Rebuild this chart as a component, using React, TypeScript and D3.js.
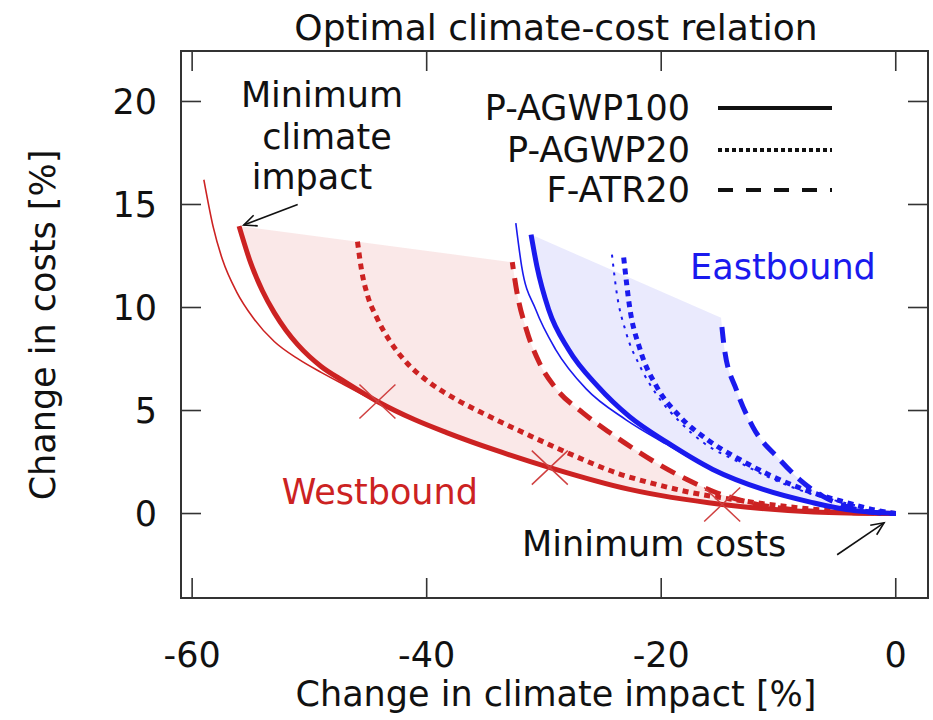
import React from "react";
import * as d3 from "d3";

type P = [number, number];

// Westbound (red)
const westThin: P[] = [[-59.0, 16.2], [-58.2, 13.9], [-57.4, 12.3], [-56.2, 10.75], [-54.8, 9.5], [-53.0, 8.35], [-50.9, 7.48], [-49.0, 6.85], [-47.0, 6.24], [-44.2, 5.4], [-38.3, 3.88], [-34.0, 3.01], [-29.5, 2.19], [-22.7, 1.13], [-14.8, 0.42], [-7.0, 0.07], [0, 0]];
const westSolid: P[] = [[-56.0, 13.95], [-55.0, 12.15], [-54.0, 10.8], [-53.0, 9.75], [-52.0, 8.9], [-51.0, 8.2], [-50.0, 7.62], [-49.0, 7.14], [-47.0, 6.4], [-44.2, 5.44], [-41.0, 4.55], [-38.3, 3.93], [-34.0, 3.05], [-29.5, 2.23], [-22.7, 1.17], [-14.8, 0.44], [-7.0, 0.08], [0, 0]];
const westDotted: P[] = [[-45.9, 13.2], [-45.56, 11.84], [-45.05, 10.6], [-44.25, 9.5], [-43.17, 8.4], [-41.72, 7.33], [-39.76, 6.36], [-37.46, 5.53], [-34.9, 4.78], [-31.2, 3.78], [-27.8, 2.9], [-23.6, 1.93], [-21.0, 1.5], [-17.8, 1.06], [-13.6, 0.66], [-9.3, 0.34], [-4.5, 0.1], [0, 0]];
const westDashed: P[] = [[-32.7, 12.2], [-32.3, 10.73], [-31.5, 8.93], [-30.4, 7.33], [-28.9, 6.02], [-26.7, 4.9], [-24.4, 3.93], [-22.1, 3.05], [-20.7, 2.55], [-17.8, 1.65], [-15.6, 1.08], [-12.2, 0.5], [-6.5, 0.1], [0, 0]];
const westCrosses: P[] = [[-44.2, 5.44], [-29.5, 2.23], [-14.8, 0.44]];

// Eastbound (blue)
const eastThin: P[] = [[-32.4, 14.1], [-31.9, 12.0], [-30.7, 9.9], [-29.0, 7.96], [-26.4, 6.05], [-23.0, 4.55], [-19.6, 3.38], [-15.6, 2.1], [-11.3, 1.15], [-7.1, 0.51], [-4.2, 0.18], [0, 0]];
const eastSolid: P[] = [[-31.1, 13.54], [-30.6, 12.0], [-29.6, 9.9], [-27.9, 7.96], [-25.4, 6.17], [-22.7, 4.7], [-19.5, 3.45], [-15.6, 2.14], [-11.3, 1.17], [-7.1, 0.53], [-4.2, 0.19], [0, 0]];
const eastThinDotted: P[] = [[-24.2, 12.57], [-23.8, 10.73], [-23.0, 8.79], [-21.8, 7.14], [-20.3, 5.7], [-18.5, 4.5], [-16.3, 3.4], [-13.4, 2.5], [-10.6, 1.7], [-7.2, 0.95], [-4.2, 0.5], [0, 0]];
const eastDotted: P[] = [[-23.2, 12.43], [-22.7, 10.05], [-21.8, 7.96], [-20.4, 6.17], [-18.4, 4.7], [-16.1, 3.6], [-13.3, 2.62], [-10.5, 1.8], [-7.1, 1.02], [-4.2, 0.53], [-1.8, 0.17], [0, 0]];
const eastDashed: P[] = [[-14.9, 9.5], [-14.6, 7.96], [-13.6, 6.02], [-12.2, 4.22], [-9.9, 2.62], [-8.2, 1.65], [-6.2, 0.83], [-4.2, 0.34], [-1.8, 0.05], [0, 0]];

const xTicks = [-60, -40, -20, 0];
const yTicks = [0, 5, 10, 15, 20];
const legendLabels = ["P-AGWP100", "P-AGWP20", "F-ATR20"];
const titleText = "Optimal climate-cost relation";
const xLabel = "Change in climate impact [%]";
const yLabel = "Change in costs [%]";
const minClimateLines = ["Minimum", "climate", "impact"];

const RED = "#cc2222";
const BLUE = "#1a1aee";
const FONT = "DejaVu Sans, sans-serif";
const FS = 35;

const W = 933, H = 720;
const FL = 181, FR = 928, FT = 51, FB = 598;

export default function App() {
  const x = d3.scaleLinear().domain([-60.95, 2.75]).range([FL, FR]);
  const y = d3.scaleLinear().domain([-4.1, 22.45]).range([FB, FT]);
  const line = d3.line<P>().x(d => x(d[0])).y(d => y(d[1])).curve(d3.curveMonotoneX);

  const shade = (a: P[], b: P[]) => {
    const p1 = line(a) as string;
    const p2 = (line([...b].reverse()) as string).replace(/^M/, "L");
    return p1 + p2 + "Z";
  };

  const arrow = (x1: number, y1: number, x2: number, y2: number, key: string) => {
    const ax = x(x1), ay = y(y1), bx = x(x2), by = y(y2);
    const ang = Math.atan2(by - ay, bx - ax);
    const L = 14, spread = 0.42;
    const h1 = [bx - L * Math.cos(ang - spread), by - L * Math.sin(ang - spread)];
    const h2 = [bx - L * Math.cos(ang + spread), by - L * Math.sin(ang + spread)];
    return (
      <g key={key} stroke="#111" strokeWidth={1.6} fill="none">
        <line x1={ax} y1={ay} x2={bx} y2={by} />
        <polyline points={`${h1[0]},${h1[1]} ${bx},${by} ${h2[0]},${h2[1]}`} />
      </g>
    );
  };

  const legY = [108, 150, 190];
  const legDash = [undefined, "4,3", "15,13"];

  return (
    <div style={{ position: "absolute", left: 0, top: 0, background: "#fff" }}>
      <svg width={W} height={H} style={{ display: "block", fontFamily: FONT }}>
        <rect x={0} y={0} width={W} height={H} fill="#fff" />
        {/* shades */}
        <path d={shade(westSolid, westDashed)} fill={RED} fillOpacity={0.1} stroke="none" />
        <path d={shade(eastSolid, eastDashed)} fill={BLUE} fillOpacity={0.09} stroke="none" />

        {/* red curves */}
        <path d={line(westThin) as string} fill="none" stroke={RED} strokeWidth={1.6} />
        <path d={line(westSolid) as string} fill="none" stroke={RED} strokeWidth={5} />
        <path d={line(westDotted) as string} fill="none" stroke={RED} strokeWidth={5} strokeDasharray="6,5" />
        <path d={line(westDashed) as string} fill="none" stroke={RED} strokeWidth={5} strokeDasharray="16,9" strokeDashoffset={9} />
        {westCrosses.map((d, i) => (
          <g key={i} stroke="#d04040" strokeWidth={1.5}>
            <line x1={x(d[0]) - 18} y1={y(d[1]) - 17} x2={x(d[0]) + 18} y2={y(d[1]) + 17} />
            <line x1={x(d[0]) - 18} y1={y(d[1]) + 17} x2={x(d[0]) + 18} y2={y(d[1]) - 17} />
          </g>
        ))}

        {/* blue curves */}
        <path d={line(eastThin) as string} fill="none" stroke={BLUE} strokeWidth={1.6} />
        <path d={line(eastSolid) as string} fill="none" stroke={BLUE} strokeWidth={5} />
        <path d={line(eastThinDotted) as string} fill="none" stroke={BLUE} strokeWidth={2} strokeDasharray="3,6" />
        <path d={line(eastDotted) as string} fill="none" stroke={BLUE} strokeWidth={5} strokeDasharray="6,5" />
        <path d={line(eastDashed) as string} fill="none" stroke={BLUE} strokeWidth={5} strokeDasharray="16,9" strokeDashoffset={16} />

        {/* frame and ticks */}
        <rect x={FL} y={FT} width={FR - FL} height={FB - FT} fill="none" stroke="#333" strokeWidth={2} />
        {xTicks.map(t => (
          <g key={"x" + t} stroke="#333" strokeWidth={1.6}>
            <line x1={x(t)} x2={x(t)} y1={FB} y2={FB - 20} />
            <line x1={x(t)} x2={x(t)} y1={FT} y2={FT + 20} />
          </g>
        ))}
        {yTicks.map(t => (
          <g key={"y" + t} stroke="#333" strokeWidth={1.6}>
            <line x1={FL} x2={FL + 20} y1={y(t)} y2={y(t)} />
            <line x1={FR} x2={FR - 20} y1={y(t)} y2={y(t)} />
          </g>
        ))}
        {xTicks.map(t => (
          <text key={"xl" + t} x={x(t)} y={667} textAnchor="middle" fontSize={FS} fill="#111">{t}</text>
        ))}
        {yTicks.map(t => (
          <text key={"yl" + t} x={157} y={y(t) + 12.5} textAnchor="end" fontSize={FS} fill="#111">{t}</text>
        ))}

        {/* titles */}
        <text x={556} y={40} textAnchor="middle" fontSize={36} fill="#111">{titleText}</text>
        <text x={556} y={706} textAnchor="middle" fontSize={FS} fill="#111">{xLabel}</text>
        <text transform={`translate(55,325) rotate(-90)`} textAnchor="middle" fontSize={FS} fill="#111">{yLabel}</text>

        {/* legend */}
        {legendLabels.map((l, i) => (
          <g key={l}>
            <text x={690} y={legY[i] + 12} textAnchor="end" fontSize={FS} fill="#111">{l}</text>
            <line x1={718} x2={832} y1={legY[i]} y2={legY[i]} stroke="#111" strokeWidth={4} strokeDasharray={legDash[i]} />
          </g>
        ))}

        {/* annotations */}
        {minClimateLines.map((s, i) => (
          <text key={s} x={[322, 327, 312][i]} y={[107, 149, 189][i]} textAnchor="middle" fontSize={FS} fill="#111">{s}</text>
        ))}
        {arrow(-51.0, 15.0, -55.6, 14.0, "a1")}
        <text x={x(-20.6)} y={y(-2.05)} textAnchor="middle" fontSize={FS} fill="#111">Minimum costs</text>
        {arrow(-5.0, -2.0, -1.0, -0.45, "a2")}
        <text x={x(-44.0)} y={y(0.45)} textAnchor="middle" fontSize={FS} fill={RED}>Westbound</text>
        <text x={x(-1.7)} y={y(11.36)} textAnchor="end" fontSize={FS} fill={BLUE}>Eastbound</text>
      </svg>
    </div>
  );
}
